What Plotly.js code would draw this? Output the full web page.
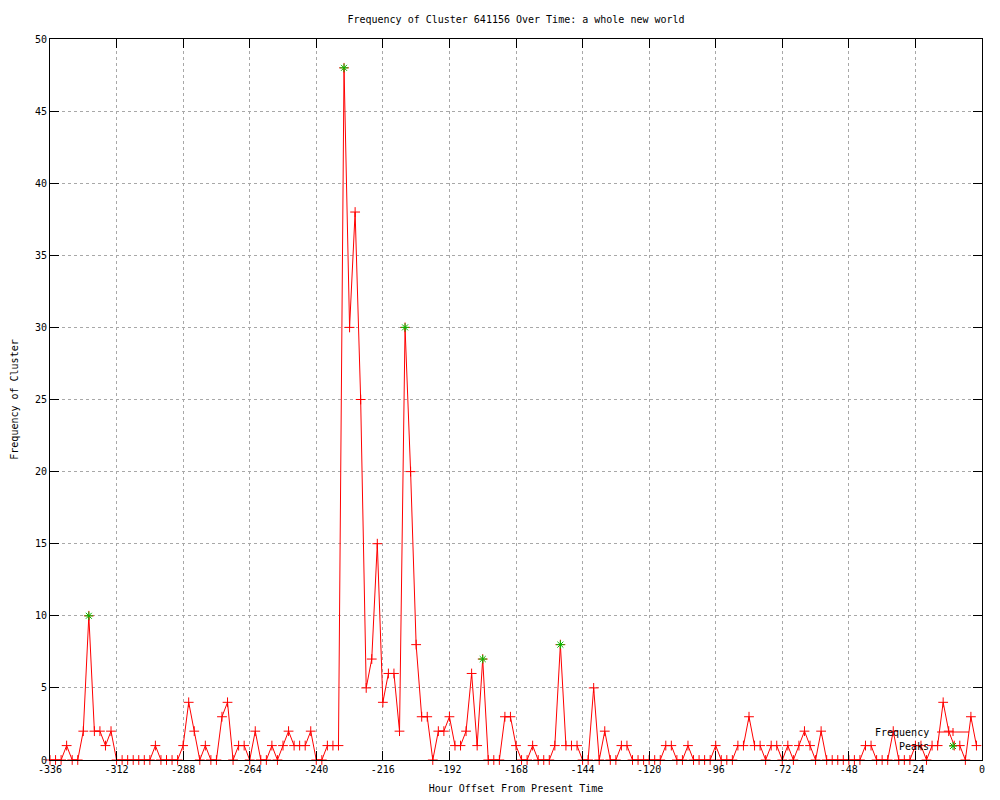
<!DOCTYPE html>
<html>
<head>
<meta charset="utf-8">
<script src="https://cdn.plot.ly/plotly-3.0.1.min.js"></script>
<style>html,body{margin:0;padding:0;background:#fff;}#chart{width:1000px;height:800px;}</style>
</head>
<body>
<div id="chart"></div>
<script>
// Hour offsets (x) and cluster frequency (y)
const hours = [-336,-334,-332,-330,-328,-326,-324,-322,-320,-318,-316,-314,-312,-310,-308,-306,-304,-302,-300,-298,
  -296,-294,-292,-290,-288,-286,-284,-282,-280,-278,-276,-274,-272,-270,-268,-266,-264,-262,-260,-258,
  -256,-254,-252,-250,-248,-246,-244,-242,-240,-238,-236,-234,-232,-230,-228,-226,-224,-222,-220,-218,
  -216,-214,-212,-210,-208,-206,-204,-202,-200,-198,-196,-194,-192,-190,-188,-186,-184,-182,-180,-178,
  -176,-174,-172,-170,-168,-166,-164,-162,-160,-158,-156,-154,-152,-150,-148,-146,-144,-142,-140,-138,
  -136,-134,-132,-130,-128,-126,-124,-122,-120,-118,-116,-114,-112,-110,-108,-106,-104,-102,-100,-98,
  -96,-94,-92,-90,-88,-86,-84,-82,-80,-78,-76,-74,-72,-70,-68,-66,-64,-62,-60,-58,
  -56,-54,-52,-50,-48,-46,-44,-42,-40,-38,-36,-34,-32,-30,-28,-26,-24,-22,-20,-18,
  -16,-14,-12,-10,-8,-6,-4,-2];
const frequency = [0,0,0,1,0,0,2,10,2,2,1,2,0,0,0,0,0,0,0,1,
  0,0,0,0,1,4,2,0,1,0,0,3,4,0,1,1,0,2,0,0,
  1,0,1,2,1,1,1,2,0,0,1,1,1,48,30,38,25,5,7,15,
  4,6,6,2,30,20,8,3,3,0,2,2,3,1,1,2,6,1,7,0,
  0,0,3,3,1,0,0,1,0,0,0,1,8,1,1,1,0,0,5,0,
  2,0,0,1,1,0,0,0,0,0,0,1,1,0,0,1,0,0,0,0,
  1,0,0,0,1,1,3,1,1,0,1,1,0,1,0,1,2,1,0,2,
  0,0,0,0,0,0,0,1,1,0,0,0,2,0,0,0,1,1,0,1,
  1,4,2,1,1,0,3,1];
const peakHours = [-322,-230,-208,-180,-152];
const peakValues = [10,48,30,7,8];
const xTicks = [-336,-312,-288,-264,-240,-216,-192,-168,-144,-120,-96,-72,-48,-24,0];
const yTicks = [0,5,10,15,20,25,30,35,40,45,50];
const titleText = 'Frequency of Cluster 641156 Over Time: a whole new world';
const xTitle = 'Hour Offset From Present Time';
const yTitle = 'Frequency of Cluster';
const seriesNames = ['Frequency','Peaks'];

const FONT = 'DejaVu Sans Mono, monospace';
const RED = '#ff0000';
const GREEN = '#00c000';

const traces = [
  {x: hours, y: frequency, name: seriesNames[0], type: 'scatter', mode: 'lines+markers',
   line: {color: RED, width: 1},
   marker: {symbol: 'cross-thin-open', size: 7, color: RED, line: {color: RED, width: 1}},
   cliponaxis: false},
  {x: peakHours, y: peakValues, name: seriesNames[1], type: 'scatter', mode: 'markers',
   marker: {symbol: 'asterisk-open', size: 7, color: GREEN, line: {color: GREEN, width: 1}},
   cliponaxis: false}
];

// legend (gnuplot style: text on the left, sample on the right) in paper coords
const W = 932, H = 721, L = 50, B = 760;
const px = v => (v - L) / W;
const py = v => (B - v) / H;
const shapes = [
  {type:'line', xref:'paper', yref:'paper', x0:px(937), x1:px(969), y0:py(732), y1:py(732), line:{color:RED,width:1}},
  {type:'line', xref:'paper', yref:'paper', x0:px(953), x1:px(953), y0:py(736), y1:py(728), line:{color:RED,width:1}},
  {type:'line', xref:'paper', yref:'paper', x0:px(953), x1:px(953), y0:py(750), y1:py(742), line:{color:GREEN,width:1}},
  {type:'line', xref:'paper', yref:'paper', x0:px(949), x1:px(957), y0:py(746), y1:py(746), line:{color:GREEN,width:1}},
  {type:'line', xref:'paper', yref:'paper', x0:px(950), x1:px(956), y0:py(749), y1:py(743), line:{color:GREEN,width:1}},
  {type:'line', xref:'paper', yref:'paper', x0:px(950), x1:px(956), y0:py(743), y1:py(749), line:{color:GREEN,width:1}}
];
const annotations = [
  {xref:'paper', yref:'paper', x:px(931), y:py(732), xanchor:'right', yanchor:'middle', text:seriesNames[0], showarrow:false, font:{family:FONT,size:10,color:'#000'}},
  {xref:'paper', yref:'paper', x:px(931), y:py(746), xanchor:'right', yanchor:'middle', text:seriesNames[1], showarrow:false, font:{family:FONT,size:10,color:'#000'}}
];

const axisCommon = {
  showline: true, linecolor: '#000', linewidth: 1, mirror: 'ticks',
  ticks: 'inside', ticklen: 9, tickcolor: '#000', tickwidth: 1,
  showgrid: true, gridcolor: '#a8a8a8', griddash: 'dot', gridwidth: 1,
  zeroline: false, tickfont: {family: FONT, size: 10, color: '#000'}
};

const layout = {
  width: 1000, height: 800,
  margin: {l: 50, r: 18, t: 39, b: 40, pad: 0},
  paper_bgcolor: '#fff', plot_bgcolor: '#fff',
  showlegend: false,
  font: {family: FONT, size: 10, color: '#000'},
  title: {text: titleText, font: {family: FONT, size: 10, color: '#000'}, xref: 'paper', x: 0.5, xanchor: 'center', yref: 'container', y: 1 - 19/800, yanchor: 'middle'},
  xaxis: Object.assign({}, axisCommon, {range: [-336, 0], tickmode: 'array', tickvals: xTicks, ticktext: xTicks.map(String),
    title: {text: xTitle, font: {family: FONT, size: 10, color: '#000'}, standoff: 10}, automargin: false}),
  yaxis: Object.assign({}, axisCommon, {range: [0, 50], tickmode: 'array', tickvals: yTicks, ticktext: yTicks.map(String),
    title: {text: yTitle, font: {family: FONT, size: 10, color: '#000'}, standoff: 14}, automargin: false}),
  shapes: shapes,
  annotations: annotations
};

Plotly.newPlot('chart', traces, layout, {staticPlot: true, displayModeBar: false});
</script>
</body>
</html>
